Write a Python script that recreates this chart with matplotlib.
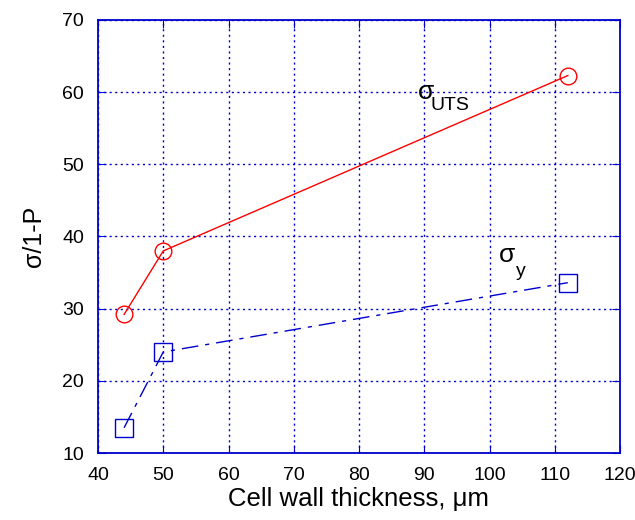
import matplotlib
matplotlib.use('Agg')
import matplotlib.pyplot as plt

plt.rcParams['font.family'] = ['Liberation Sans', 'DejaVu Sans']

thickness = [44, 50, 112]
sigma_uts = [29.2, 38.0, 62.3]
sigma_y = [13.5, 24.0, 33.6]

xticks = [40, 50, 60, 70, 80, 90, 100, 110, 120]
yticks = [10, 20, 30, 40, 50, 60, 70]

blue = '#0000cc'

fig = plt.figure(figsize=(6.35, 5.2), dpi=100)
ax = fig.add_axes([98/635, 67/520, 522/635, 433/520])

ax.plot(thickness, sigma_uts, color='red', lw=1, marker='o', ms=12,
        mfc='none', mec='red', mew=1)
ax.plot(thickness, sigma_y, color=blue, lw=1, dashes=[12, 5, 3, 5],
        marker='s', ms=12.5, mfc='none', mec=blue, mew=1)

ax.set_xlim(40, 120)
ax.set_ylim(10, 70)
ax.set_xticks(xticks)
ax.set_yticks(yticks)
ax.grid(True, color=blue, ls=(0, (1.5, 2.5)), lw=1)
for s in ax.spines.values():
    s.set_color(blue)
    s.set_linewidth(1.3)
ax.tick_params(direction='in', length=6, color=blue, top=True, right=True,
               labelsize=14, pad=10)

ax.set_xlabel('Cell wall thickness, \u03bcm', fontsize=18.5, labelpad=2)
ax.set_ylabel('\u03c3/1-P', fontsize=18, labelpad=12)

# curve labels
ax.text(89.0, 60.0, '\u03c3', fontsize=19, ha='left', va='center')
ax.text(90.9, 58.1, 'UTS', fontsize=14, ha='left', va='center')
ax.text(101.4, 37.5, '\u03c3', fontsize=19, ha='left', va='center')
ax.text(104.0, 35.2, 'y', fontsize=14, ha='left', va='center')

fig.savefig('out.png', dpi=100)
